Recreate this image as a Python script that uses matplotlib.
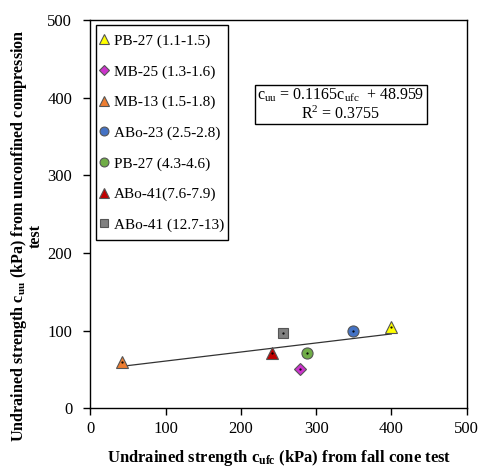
import matplotlib
matplotlib.use("Agg")
import matplotlib.pyplot as plt
from matplotlib.patches import Rectangle
import numpy as np

plt.rcParams['font.family'] = ['Liberation Serif', 'DejaVu Serif']
plt.rcParams['mathtext.fontset'] = 'custom'
plt.rcParams['mathtext.rm'] = 'Liberation Serif'
plt.rcParams['mathtext.it'] = 'Liberation Serif'
plt.rcParams['mathtext.bf'] = 'Liberation Serif:bold'

labels = ["PB-27 (1.1-1.5)", "MB-25 (1.3-1.6)", "MB-13 (1.5-1.8)", "ABo-23 (2.5-2.8)",
          "PB-27 (4.3-4.6)", "ABo-41(7.6-7.9)", "ABo-41 (12.7-13)"]
cufc = [400, 278, 42, 349, 288, 241, 256]
cuu = [104, 51, 59, 99, 71, 71, 97]
markers = ["^", "D", "^", "o", "o", "^", "s"]
colors = ["#FFFF00", "#CC33CC", "#ED7D31", "#4472C4", "#70AD47", "#C00000", "#808080"]
msizes = [8.5, 6.5, 8.5, 8, 8, 8.5, 7.5]

slope = 0.1165
intercept = 48.959
r2 = 0.3755

fig = plt.figure(figsize=(4.83, 4.68), dpi=100)
ax = fig.add_axes([0.187, 0.128, 0.779, 0.829])

xfit = np.array([min(cufc), max(cufc)])
ax.plot(xfit, slope * xfit + intercept, color='#333333', lw=0.9, zorder=2)

handles = []
for x, y, m, c, s, l in zip(cufc, cuu, markers, colors, msizes, labels):
    h, = ax.plot([x], [y], marker=m, ms=s, mfc=c, mec='#555555', mew=0.8, ls='none', label=l, zorder=3)
    ax.plot([x], [y], marker='.', ms=1.2, color='black', ls='none', zorder=4)
    handles.append(h)

ax.set_xlim(0, 500)
ax.set_ylim(0, 500)
ax.set_xticks(range(0, 501, 100))
ax.set_yticks(range(0, 501, 100))
ax.tick_params(labelsize=12, direction='out', length=5, width=1, colors='black')
ax.tick_params(axis='y', pad=8)
ax.tick_params(axis='x', pad=4)
for sp in ax.spines.values():
    sp.set_linewidth(1.0)
    sp.set_color('black')

ax.set_xlabel(r"Undrained strength c$_{\mathbf{ufc}}$ (kPa) from fall cone test",
              fontsize=12, fontweight='bold')
ax.xaxis.set_label_coords(0.503, -0.103)
ax.set_ylabel("Undrained strength c$_{\\mathbf{uu}}$ (kPa) from unconfined compression\ntest",
              fontsize=11.6, fontweight='bold', linespacing=0.9)
ax.yaxis.set_label_coords(-0.124, 0.444)

leg = ax.legend(handles=handles, loc='upper left', bbox_to_anchor=(0.015, 0.976),
                fontsize=11, frameon=False,
                labelspacing=1.1, handlelength=0.5, handletextpad=0.35,
                borderpad=0.3, borderaxespad=0.0, markerscale=0.8)
leg.set_zorder(6)

fig.canvas.draw()
bb = leg.get_window_extent().transformed(ax.transAxes.inverted())
padv = 4.0 / ax.bbox.height
ax.add_patch(Rectangle((bb.x0, bb.y0 - padv), bb.width, bb.height + 2 * padv,
                       transform=ax.transAxes, fc='white', ec='black', lw=1.0, zorder=5))

# equation box
ax.add_patch(Rectangle((0.438, 0.731), 0.457, 0.103, transform=ax.transAxes,
                       fc='white', ec='black', lw=1.0, zorder=5))
ax.text(0.665, 0.807, "c$_{\\mathrm{uu}}$ = 0.1165c$_{\\mathrm{ufc}}$  + 48.959",
        transform=ax.transAxes, ha='center', va='center', fontsize=11.5, zorder=6)
ax.text(0.665, 0.757, "R$^{2}$ = %.4f" % r2,
        transform=ax.transAxes, ha='center', va='center', fontsize=11.5, zorder=6)

fig.savefig("out.png", dpi=100)
